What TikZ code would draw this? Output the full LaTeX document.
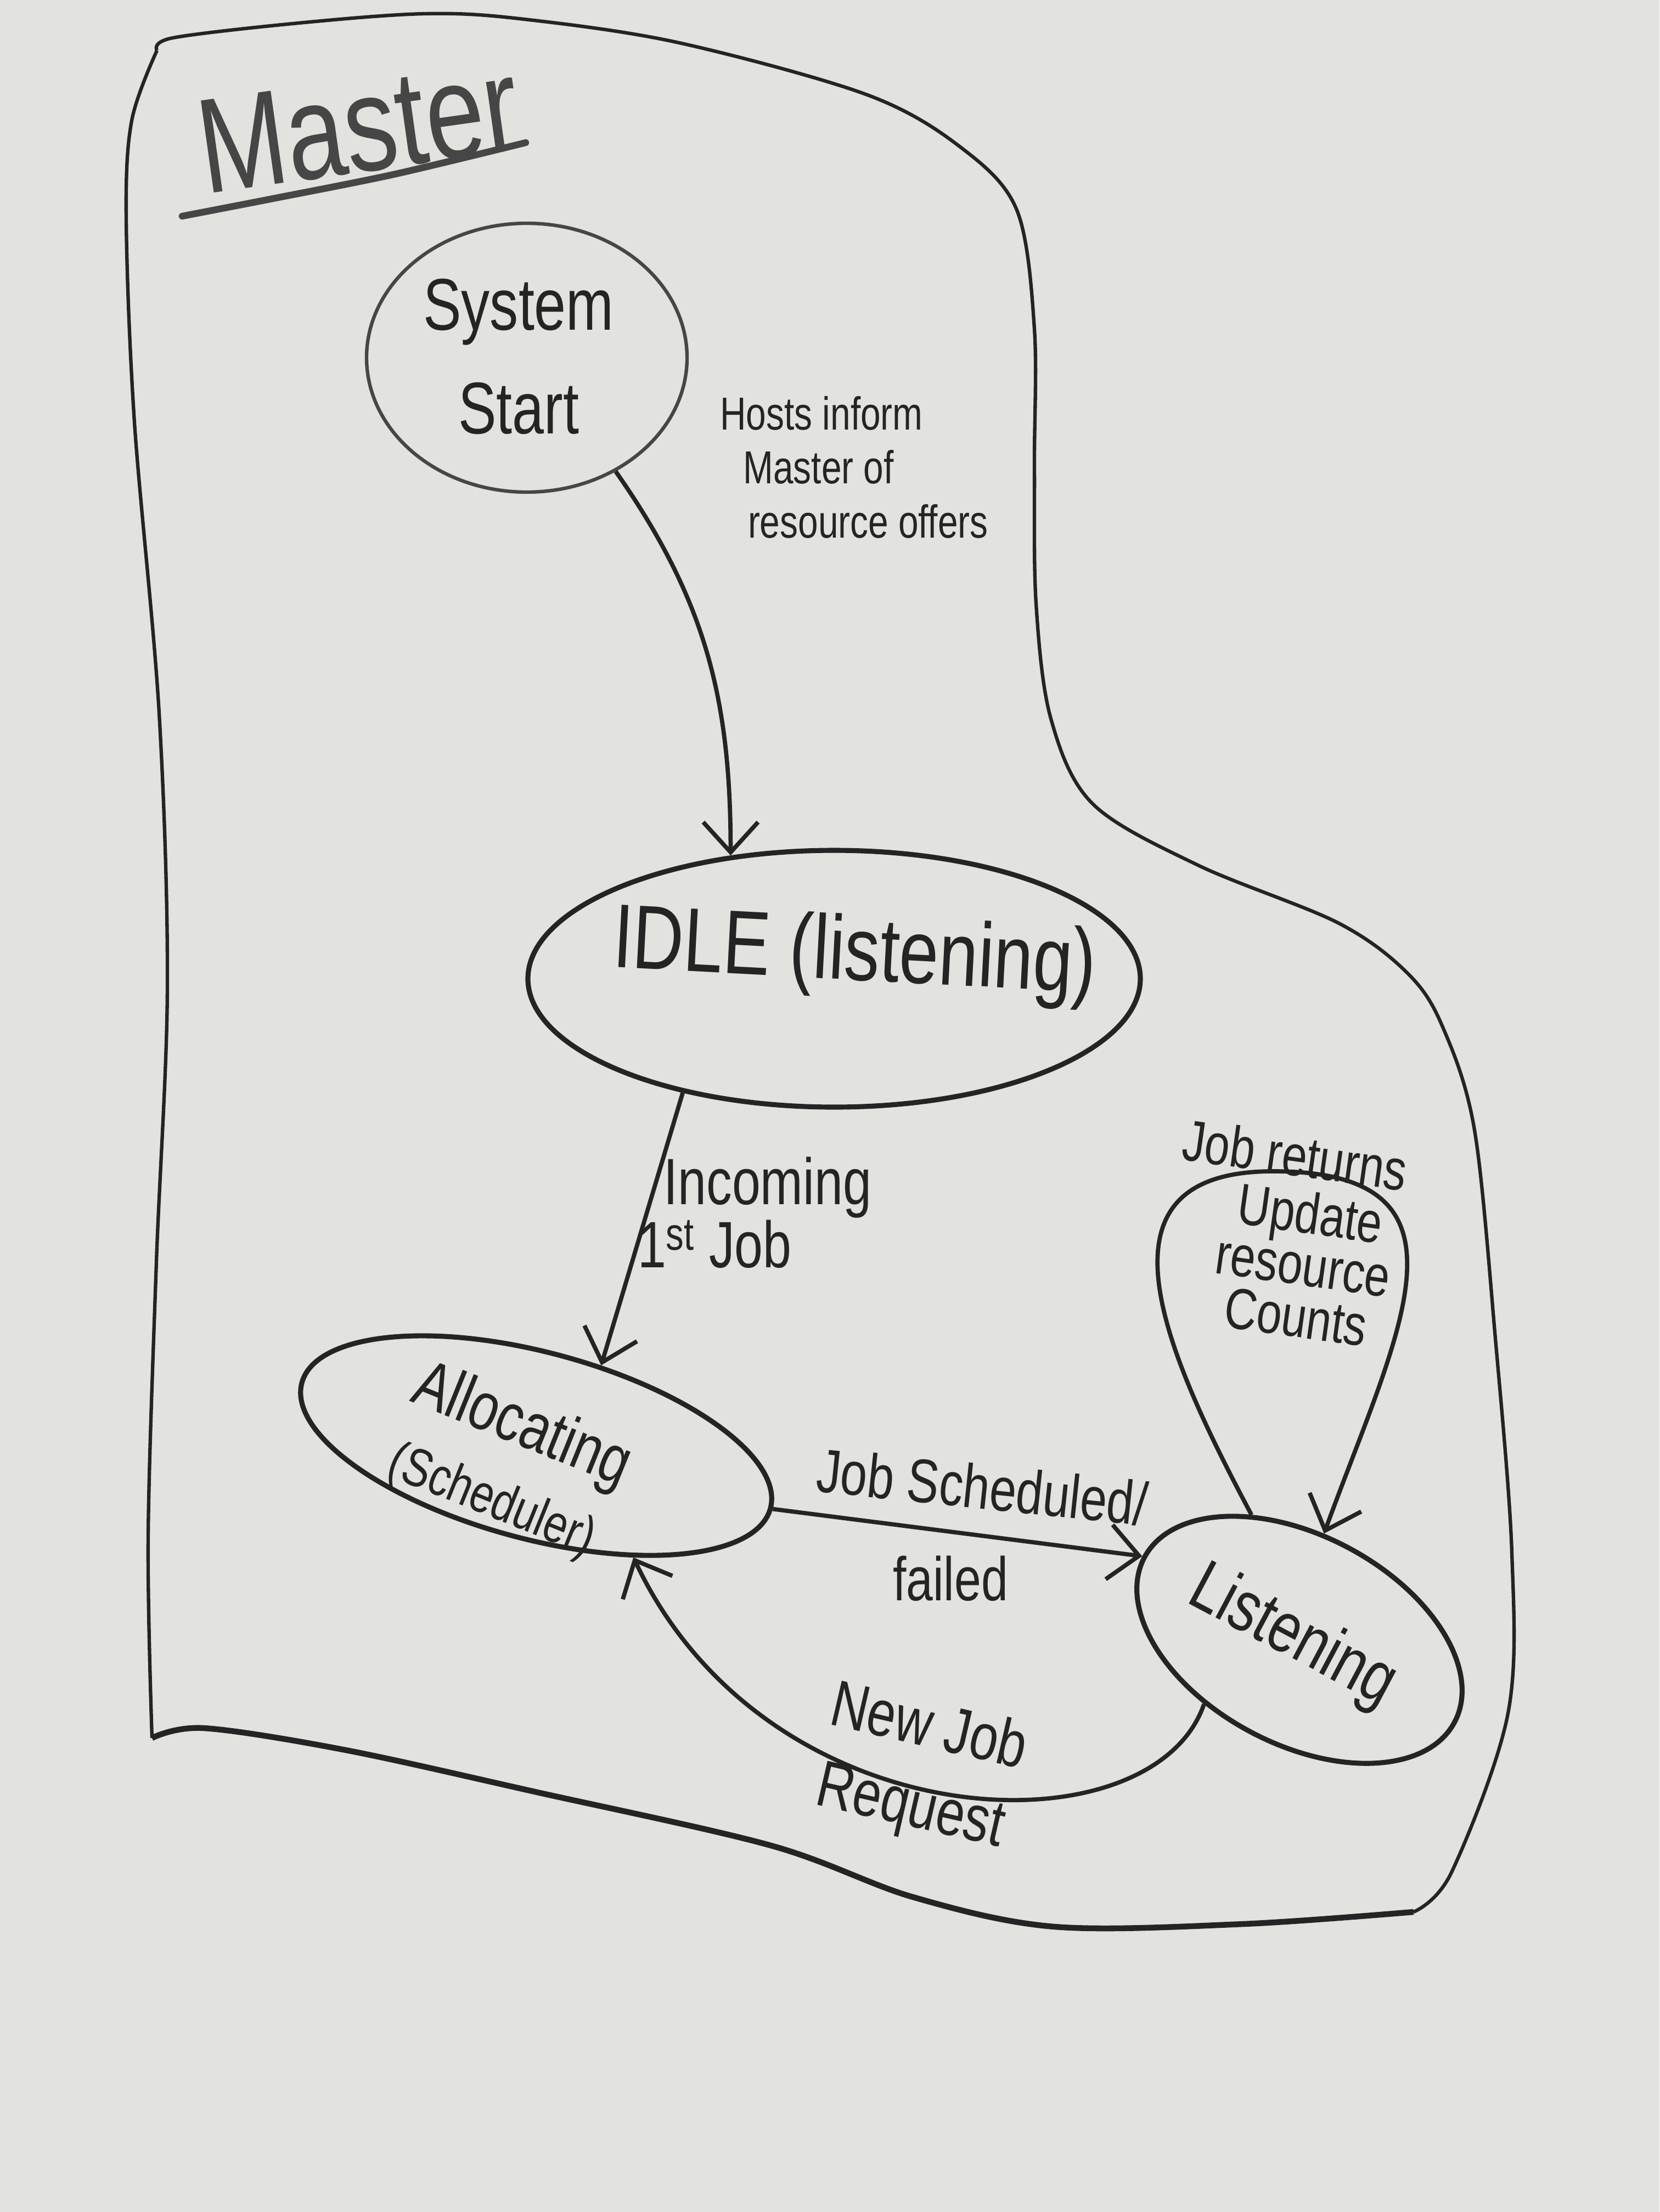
\documentclass[tikz,border=0pt]{standalone}
\usepackage{fontspec}
\setmainfont{Liberation Sans}[FakeStretch=0.78]
\usepackage{xcolor}
\usetikzlibrary{shapes.geometric, arrows.meta, positioning}
\definecolor{board}{RGB}{226,226,223}
\definecolor{ink}{RGB}{36,36,36}
\definecolor{worn}{RGB}{70,70,70}
\newcommand{\pen}[2]{\fontsize{#1}{#2}\selectfont}

\begin{document}
\begin{tikzpicture}[
        state/.style={draw=ink, ellipse, line width=2.6pt, inner sep=0pt},
        note/.style={text=ink, align=center},
        arr/.style={draw=ink, line width=2.2pt, -{Straight Barb[length=5.5mm,width=10mm]}},
        rim/.style={draw=ink, line width=1.8pt, line join=round}
    ]
        \fill[board] (0,0) rectangle (30.24,-40.32);
        \useasboundingbox (0,0) rectangle (30.24,-40.32);

        \draw[rim] plot[smooth, tension=0.55] coordinates {(2.86,-0.92) (3.15,-0.69) (5.44,-0.42) (7.74,-0.25) (9.46,-0.34) (12.33,-0.77) (15.78,-1.72) (17.5,-2.68) (18.53,-3.83) (18.85,-6.0) (18.85,-8.5) (18.88,-11.0) (19.15,-13.1) (19.91,-14.65) (21.83,-15.77) (24.38,-16.82) (25.65,-17.74) (26.29,-18.72) (26.87,-20.6) (27.25,-24.4) (27.55,-28.3) (27.48,-31.23) (26.45,-34.13) (25.76,-34.85)};
        \draw[rim, line width=3pt] plot[smooth, tension=0.55] coordinates {(25.76,-34.85) (22.66,-35.07) (19.22,-35.12) (16.64,-34.58) (14.05,-33.64) (9.75,-32.66) (6.3,-31.9) (3.72,-31.5) (2.77,-31.68)};
        \draw[rim] plot[smooth, tension=0.55] coordinates {(2.77,-31.68) (2.7,-28) (2.85,-23) (3.05,-18) (2.9,-13) (2.45,-7.7) (2.3,-4) (2.4,-2.2) (2.86,-0.92)};

        \node[note, text=worn, rotate=8, font=\pen{70}{78}] (MasterTitle) at (6.53,-2.3) {Master};
        \draw[draw=worn, line width=3.5pt, line cap=round] plot[smooth] coordinates {(3.32,-3.94) (4.87,-3.64) (7.17,-3.18) (9.58,-2.6)};

        \node[state, draw=worn, line width=1.8pt, minimum width=5.84cm, minimum height=4.9cm] (Start) at (9.6,-6.52) {};
        \node[note, font=\pen{38}{54}] (StartText) at (9.45,-6.5) {System\\Start};
        \node[state, minimum width=11.16cm, minimum height=4.68cm] (Idle) at (15.2,-17.84) {};
        \node[note, anchor=base, rotate=-3, font=\pen{47}{56}] (IdleText) at (15.55,-17.86) {IDLE (listening)};
        \node[state, minimum width=8.84cm, minimum height=3.4cm, rotate=-15] (Alloc) at (9.77,-26.35) {};
        \node[note, rotate=-22, font=\pen{35}{40}] (AllocText) at (9.25,-26.65) {Allocating\\\pen{28}{34}(Scheduler)};
        \node[state, minimum width=6.4cm, minimum height=3.8cm, rotate=-28] (Listen) at (23.68,-29.89) {};
        \node[note, rotate=-28, font=\pen{37}{44}] (ListenText) at (23.55,-29.85) {Listening};

        \node[note, align=left, anchor=north west, font=\pen{24}{28}] (Hosts) at (13.0,-7.1) {Hosts inform\\\hspace{0.5em}Master of\\\hspace{0.6em}resource offers};
        \node[note, align=left, font=\pen{34}{30}] (Incoming) at (13.75,-22.1) {\hspace{0.4em}Incoming\\1\textsuperscript{st} Job};
        \node[note, rotate=-6, font=\pen{32}{36}] (Sched) at (17.9,-27.1) {Job Scheduled/};
        \node[note, font=\pen{32}{36}] (Failed) at (17.32,-28.77) {failed};
        \node[note, rotate=-13, font=\pen{34}{42}] (NewJob) at (16.75,-32.25) {New Job\\Request};
        \node[note, rotate=-8, font=\pen{30}{36}] (Returns) at (23.6,-21.05) {Job returns};
        \node[note, rotate=-8, font=\pen{30}{27}] (Update) at (23.75,-23.05) {Update\\resource\\Counts};

        \coordinate (LoopTop) at (23.2,-21.35);
        \draw[arr] (Start.-52) to[out=-55, in=90] (Idle.130);
        \draw[arr] (Idle.217) -- (Alloc.66);
        \draw[arr] (Alloc.east) -- (Listen.west);
        \draw[arr] (Listen.-118) .. controls (21.0,-33.8) and (14.0,-33.6) .. (Alloc.-34);
        \draw[arr] (Listen.139) to[out=118, in=180, looseness=1.4] (LoopTop) to[out=0, in=70, looseness=1.5] (Listen.105);
    \end{tikzpicture}
\end{document}
